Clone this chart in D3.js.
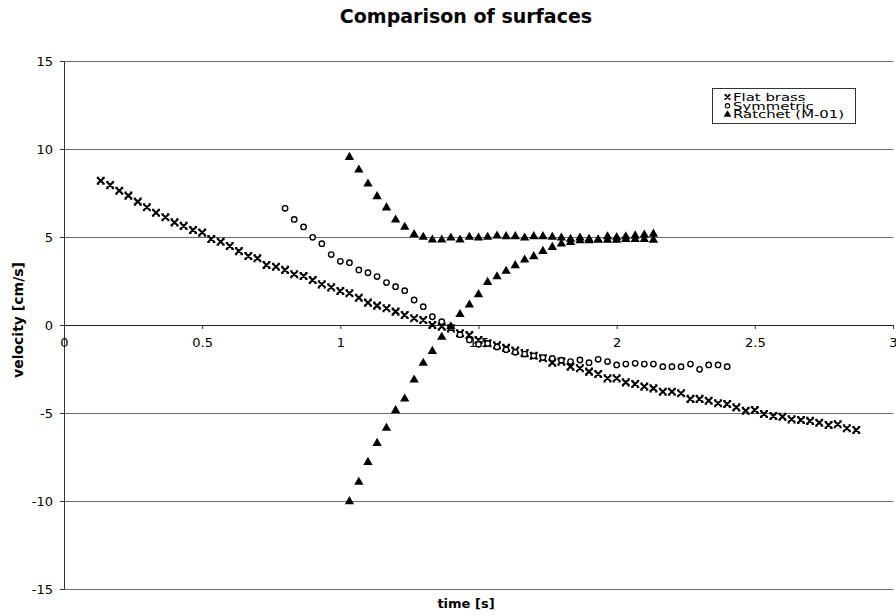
<!DOCTYPE html>
<html>
<head>
<meta charset="utf-8">
<script src="https://cdn.jsdelivr.net/npm/d3@7"></script>
<style>
body { margin: 0; background: #fff; }
text { font-family: "DejaVu Sans", Verdana, sans-serif; fill: #000; }
</style>
</head>
<body>
<div id="svg_container"></div>
<script>
/* -----------------------
data
------------------------- */

var flatTime = [0.133, 0.167, 0.200, 0.233, 0.267, 0.300, 0.333, 0.367, 0.400, 0.433,
	0.467, 0.500, 0.533, 0.567, 0.600, 0.633, 0.667, 0.700, 0.733, 0.767,
	0.800, 0.833, 0.867, 0.900, 0.933, 0.967, 1.000, 1.033, 1.067, 1.100,
	1.133, 1.167, 1.200, 1.233, 1.267, 1.300, 1.333, 1.367, 1.400, 1.433,
	1.467, 1.500, 1.533, 1.567, 1.600, 1.633, 1.667, 1.700, 1.733, 1.767,
	1.800, 1.833, 1.867, 1.900, 1.933, 1.967, 2.000, 2.033, 2.067, 2.100,
	2.133, 2.167, 2.200, 2.233, 2.267, 2.300, 2.333, 2.367, 2.400, 2.433,
	2.467, 2.500, 2.533, 2.567, 2.600, 2.633, 2.667, 2.700, 2.733, 2.767,
	2.800, 2.833, 2.867];
var flatVel = [8.20, 7.95, 7.63, 7.35, 7.01, 6.69, 6.38, 6.12, 5.83, 5.63,
	5.40, 5.25, 4.89, 4.73, 4.49, 4.20, 3.92, 3.79, 3.41, 3.31,
	3.13, 2.88, 2.78, 2.56, 2.31, 2.14, 1.93, 1.80, 1.55, 1.27,
	1.10, 0.95, 0.76, 0.57, 0.38, 0.28, 0.00, -0.09, -0.19, -0.47,
	-0.57, -0.85, -1.04, -1.15, -1.30, -1.45, -1.60, -1.75, -1.89, -2.14,
	-2.08, -2.37, -2.46, -2.65, -2.78, -3.03, -3.03, -3.26, -3.35, -3.50,
	-3.60, -3.79, -3.79, -3.88, -4.20, -4.20, -4.30, -4.45, -4.49, -4.68,
	-4.87, -4.83, -5.06, -5.17, -5.21, -5.36, -5.40, -5.45, -5.55, -5.68,
	-5.64, -5.87, -5.97];

var symTime = [0.800, 0.833, 0.867, 0.900, 0.933, 0.967, 1.000, 1.033, 1.067, 1.100,
	1.133, 1.167, 1.200, 1.233, 1.267, 1.300, 1.333, 1.367, 1.400, 1.433,
	1.467, 1.500, 1.533, 1.567, 1.600, 1.633, 1.667, 1.700, 1.733, 1.767,
	1.800, 1.833, 1.867, 1.900, 1.933, 1.967, 2.000, 2.033, 2.067, 2.100,
	2.133, 2.167, 2.200, 2.233, 2.267, 2.300, 2.333, 2.367, 2.400];
var symVel = [6.63, 6.00, 5.57, 4.98, 4.62, 4.00, 3.62, 3.54, 3.13, 2.97,
	2.75, 2.41, 2.18, 1.95, 1.42, 1.04, 0.47, 0.19, -0.15, -0.55,
	-0.85, -1.10, -1.05, -1.25, -1.40, -1.55, -1.65, -1.75, -1.85, -1.90,
	-2.00, -2.08, -1.99, -2.14, -1.95, -2.08, -2.27, -2.22, -2.18, -2.22,
	-2.22, -2.37, -2.37, -2.37, -2.22, -2.52, -2.27, -2.27, -2.37];

// ratchet: two runs, same marker
var ratTime = [1.033, 1.067, 1.100, 1.133, 1.167, 1.200, 1.233, 1.267, 1.300, 1.333,
	1.367, 1.400, 1.433, 1.467, 1.500, 1.533, 1.567, 1.600, 1.633, 1.667,
	1.700, 1.733, 1.767, 1.800, 1.833, 1.867, 1.900, 1.933, 1.967, 2.000,
	2.033, 2.067, 2.100, 2.133];
var ratVelA = [9.56, 8.84, 8.05, 7.33, 6.69, 6.00, 5.59, 5.17, 5.02, 4.87,
	4.87, 4.98, 4.87, 5.02, 4.98, 5.02, 5.09, 5.06, 5.06, 4.98,
	5.06, 5.06, 5.02, 4.98, 4.91, 4.98, 4.91, 4.87, 5.05, 5.00,
	5.05, 5.10, 5.15, 5.20];
var ratVelB = [-10.0, -8.90, -7.77, -6.69, -5.83, -4.83, -4.17, -3.09, -2.14, -1.46,
	-0.66, -0.06, 0.63, 1.17, 1.76, 2.46, 2.78, 3.09, 3.41, 3.73,
	3.92, 4.22, 4.45, 4.64, 4.73, 4.83, 4.83, 4.87, 4.85, 4.85,
	4.90, 4.90, 4.90, 4.85];

var xTicks = [0, 0.5, 1, 1.5, 2, 2.5, 3];
var yTicks = [-15, -10, -5, 0, 5, 10, 15];
var seriesNames = ["Flat brass", "Symmetric", "Ratchet (M-01)"];

/* -----------------------
main variables
------------------------- */

var width = 896;
var height = 616;
var margin = {top: 61, right: 3, bottom: 27, left: 64};

var svg = d3.select("#svg_container")
	.append("svg")
	.attr("width", width)
	.attr("height", height)

var x = d3.scaleLinear().domain([0, 3]).range([margin.left, width - margin.right]);
var y = d3.scaleLinear().domain([-15, 15]).range([height - margin.bottom, margin.top]);

/* -----------------------
grid + axes
------------------------- */

var grid = svg.append("g")
	.attr("transform", "translate(" + margin.left + ",0)")
	.call(d3.axisLeft(y).tickValues(yTicks).tickSize(-(x(3) - x(0))).tickFormat(""))
grid.select(".domain").remove()
grid.selectAll("line").attr("stroke", "#6a6a6a")

var yAxis = svg.append("g")
	.attr("transform", "translate(" + margin.left + ",0)")
	.call(d3.axisLeft(y).tickValues(yTicks).tickSize(4).tickSizeOuter(0).tickPadding(7)
		.tickFormat(function(d) { return String(d); }))
yAxis.select(".domain").attr("stroke", "#333")
yAxis.selectAll("line").attr("stroke", "#333")
yAxis.selectAll("text").style("font-size", "13px")

var xAxis = svg.append("g")
	.attr("transform", "translate(0," + y(0) + ")")
	.call(d3.axisBottom(x).tickValues(xTicks).tickSize(4).tickSizeOuter(0).tickPadding(9)
		.tickFormat(function(d) { return String(d); }))
xAxis.select(".domain").attr("stroke", "#222")
xAxis.selectAll("line").attr("stroke", "#333")
xAxis.selectAll("text").style("font-size", "13px")

/* -----------------------
titles
------------------------- */

svg.append("text")
	.attr("x", 466)
	.attr("y", 23)
	.attr("text-anchor", "middle")
	.style("font-size", "19px")
	.style("font-weight", "bold")
	.text("Comparison of surfaces")

svg.append("text")
	.attr("x", 466)
	.attr("y", 608)
	.attr("text-anchor", "middle")
	.style("font-size", "13px")
	.style("font-weight", "bold")
	.text("time [s]")

svg.append("text")
	.attr("transform", "translate(23,320) rotate(-90)")
	.attr("text-anchor", "middle")
	.style("font-size", "14px")
	.style("font-weight", "bold")
	.text("velocity [cm/s]")

/* -----------------------
markers
------------------------- */

var xMark = "M-3.2,-3L3.2,3M3.2,-3L-3.2,3M-4,-3H-1.6M1.6,-3H4M-4,3H-1.6M1.6,3H4";
var triMark = d3.symbol().type(d3.symbolTriangle).size(38)();

function pts(t, v) {
	return t.map(function(d, i) { return {t: d, v: v[i]}; });
}

var plot = svg.append("g").attr("id", "d3_plot")

plot.selectAll(".flat")
	.data(pts(flatTime, flatVel))
	.enter()
	.append("path")
	.attr("class", "flat")
	.attr("d", xMark)
	.attr("transform", function(d) { return "translate(" + x(d.t) + "," + y(d.v) + ")"; })
	.attr("fill", "none")
	.attr("stroke", "#000")
	.attr("stroke-width", 2.1)

plot.selectAll(".sym")
	.data(pts(symTime, symVel))
	.enter()
	.append("circle")
	.attr("class", "sym")
	.attr("cx", function(d) { return x(d.t); })
	.attr("cy", function(d) { return y(d.v); })
	.attr("r", 2.7)
	.attr("fill", "#fff")
	.attr("stroke", "#000")
	.attr("stroke-width", 1.4)

plot.selectAll(".rat")
	.data(pts(ratTime, ratVelA).concat(pts(ratTime, ratVelB)))
	.enter()
	.append("path")
	.attr("class", "rat")
	.attr("d", triMark)
	.attr("transform", function(d) { return "translate(" + x(d.t) + "," + (y(d.v) + 0.5) + ")"; })
	.attr("fill", "#000")

/* -----------------------
legend
------------------------- */

var legend = svg.append("g").attr("transform", "translate(712,88)")

legend.append("rect")
	.attr("x", 0.5)
	.attr("y", 0.5)
	.attr("width", 143)
	.attr("height", 35)
	.attr("fill", "#fff")
	.attr("stroke", "#333")

var row = legend.selectAll(".row")
	.data(seriesNames)
	.enter()
	.append("g")
	.attr("class", "row")
	.attr("transform", function(d, i) { return "translate(15.5," + (9 + i * 8.8) + ")"; })

// legend text is drawn wide in the original
row.append("text")
	.attr("transform", "translate(5.5,0) scale(1.42,1)")
	.attr("dy", "0.36em")
	.style("font-size", "10.5px")
	.text(function(d) { return d; })

row.filter(function(d, i) { return i == 0; })
	.append("path")
	.attr("d", "M-2.5,-2.3L2.5,2.3M2.5,-2.3L-2.5,2.3M-3,-2.3H-1M1,-2.3H3M-3,2.3H-1M1,2.3H3")
	.attr("stroke", "#000")
	.attr("stroke-width", 1.6)

row.filter(function(d, i) { return i == 1; })
	.append("circle")
	.attr("r", 2.2)
	.attr("fill", "#fff")
	.attr("stroke", "#000")
	.attr("stroke-width", 1.1)

row.filter(function(d, i) { return i == 2; })
	.append("path")
	.attr("d", d3.symbol().type(d3.symbolTriangle).size(26)())
	.attr("fill", "#000")
</script>
</body>
</html>
